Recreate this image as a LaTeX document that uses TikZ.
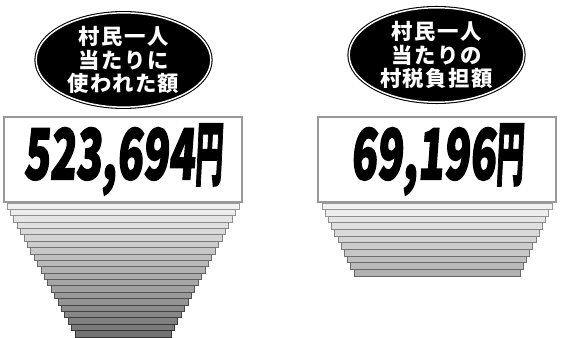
\documentclass[tikz,border=0pt]{standalone}
\usepackage{graphicx}
\usepackage{fontspec}
\newfontfamily\cjk[LetterSpace=7]{Noto Sans CJK JP}
\newfontfamily\numfont[BoldFeatures={FakeBold=2.5,FakeSlant=0.12}]{Noto Sans CJK JP}
\usetikzlibrary{shapes.geometric}
\tikzset{
  pill/.style={ellipse,draw=black,double=white,double distance=1.1pt,line width=.8pt,
    fill=black,text=white,inner sep=0pt,minimum width=131pt,minimum height=70pt,
    font=\cjk\bfseries\fontsize{16}{17.4}\selectfont,align=center},
  valbox/.style={rectangle,draw=black!40,line width=1.1pt,fill=white,
    minimum width=178.5pt,minimum height=63.75pt,inner sep=0pt},
  barstep/.style={line width=.7pt}
}
\newcommand{\yen}{\scalebox{0.65}[1]{円}}
\newcommand{\bignum}[1]{\scalebox{1}[1.64]{\numfont\bfseries\fontsize{32}{32}\selectfont #1}}
\begin{document}
\begin{tikzpicture}[x=0.75pt,y=-0.75pt]
\useasboundingbox(0,0)rectangle(572,338);
%left stack
\foreach \i in {0,...,20}{
\pgfmathtruncatemacro\f{5+2.5*\i}
\pgfmathtruncatemacro\o{40+2*\i}
\draw[barstep,draw=black!\o,fill=black!\f](7+3.4*\i,203+6.38*\i)rectangle(239-3.4*\i,209.38+6.38*\i);
}
%right stack
\foreach \i in {0,...,10}{
\pgfmathtruncatemacro\f{5+2.5*\i}
\pgfmathtruncatemacro\o{40+2*\i}
\draw[barstep,draw=black!\o,fill=black!\f](322+3.2*\i,203+6.64*\i)rectangle(552-3.2*\i,209.64+6.64*\i);
}
%value boxes
\node[valbox](lbox)at(123,159.5){\bignum{523,694\yen}};
\node[valbox](rbox)at(437,159.5){\bignum{69,196\yen}};
%labels
\node[pill](lpill)at(123.5,60){村民一人\\当たりに\\使われた額};
\node[pill](rpill)at(436.5,55){村民一人\\当たりの\\村税負担額};
\end{tikzpicture}
\end{document}
